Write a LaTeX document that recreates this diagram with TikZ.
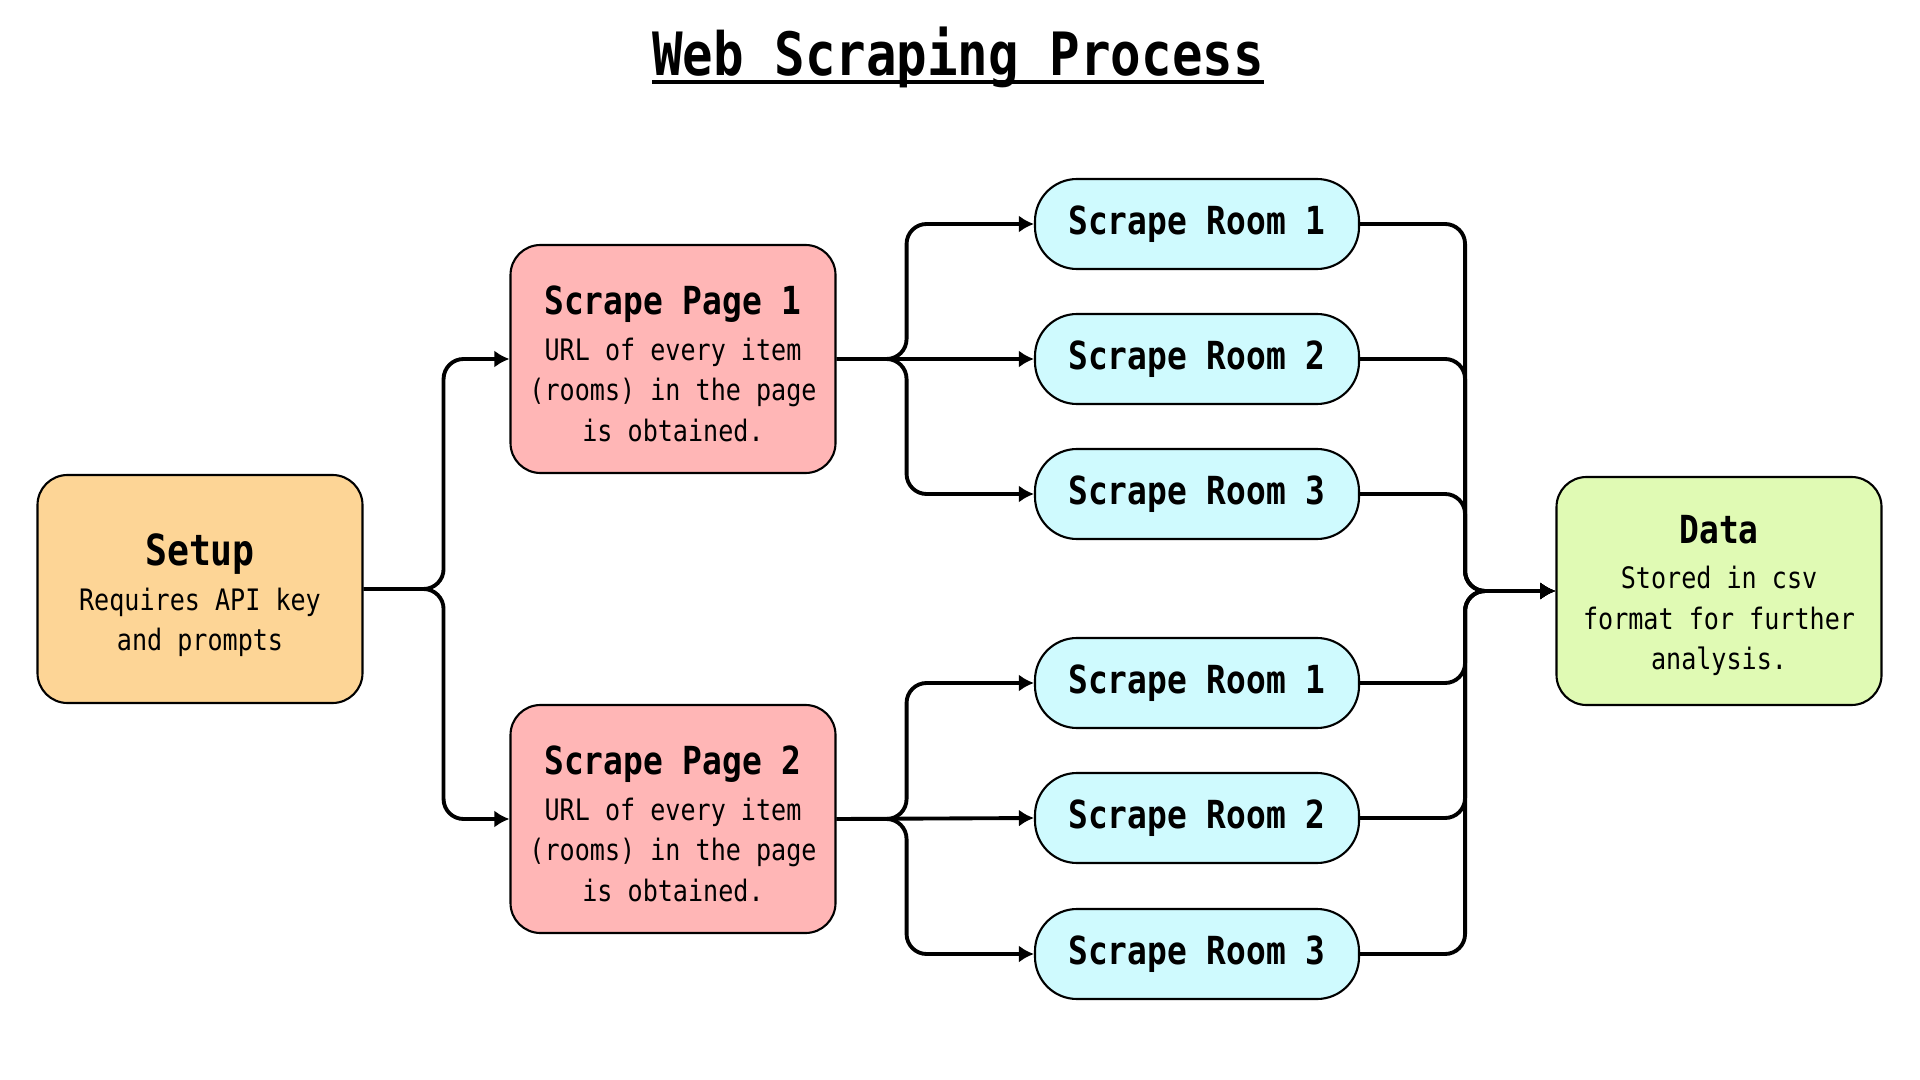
\documentclass[tikz,border=0pt]{standalone}
\usepackage{fontspec}
\setmainfont[FakeStretch=0.85]{DejaVu Sans Mono}
\usepackage{xcolor}
\usepackage{tikz}
\usetikzlibrary{arrows.meta}
\definecolor{OrangeSetup}{RGB}{253,213,150}
\definecolor{RedPage}{RGB}{255,182,182}
\definecolor{CyanRoom}{RGB}{207,250,254}
\definecolor{GreenData}{RGB}{224,250,180}
\newcommand{\thickunderline}[1]{\setbox0=\hbox{#1}\rlap{\rule[-2.4pt]{\wd0}{1.3pt}}\box0}
\newcommand{\headfont}{\fontsize{11}{13}\selectfont\bfseries}
\newcommand{\headstrut}[1]{\rule{0pt}{#1}}

\begin{document}
\begin{tikzpicture}[>={Latex[length=1.5mm,width=1.7mm]},
  bigbox/.style={draw,line width=0.6pt,rounded corners=0.3cm,minimum width=3.25cm,minimum height=2.28cm,align=center,font=\fontsize{8.4}{11.5}\selectfont},
  roombox/.style={draw,line width=0.6pt,rounded corners=0.42cm,fill=CyanRoom,minimum width=3.24cm,minimum height=0.9cm,font=\headfont},
  link/.style={->,line width=1.1pt,rounded corners=0.2cm}]
  \useasboundingbox (0,0) rectangle (19.2,-10.8);
  \node[anchor=base,font=\fontsize{17}{20}\selectfont\bfseries] (title) at (9.58,-0.76) {\thickunderline{Web Scraping Process}};
  % boxes
  \node[bigbox,fill=OrangeSetup] (setup) at (2.00,-5.89) {{\fontsize{12.2}{14}\selectfont\bfseries\headstrut{12.8pt}Setup}\\[1.2pt]Requires API key\\and prompts};
  \node[bigbox,fill=RedPage] (page1) at (6.73,-3.59) {{\headfont\headstrut{11pt}Scrape Page 1}\\[1.5pt]URL of every item\\(rooms) in the page\\is obtained.};
  \node[bigbox,fill=RedPage] (page2) at (6.73,-8.19) {{\headfont\headstrut{11pt}Scrape Page 2}\\[1.5pt]URL of every item\\(rooms) in the page\\is obtained.};
  \node[roombox] (room1a) at (11.97,-2.24) {Scrape Room 1};
  \node[roombox] (room2a) at (11.97,-3.59) {Scrape Room 2};
  \node[roombox] (room3a) at (11.97,-4.94) {Scrape Room 3};
  \node[roombox] (room1b) at (11.97,-6.83) {Scrape Room 1};
  \node[roombox] (room2b) at (11.97,-8.18) {Scrape Room 2};
  \node[roombox] (room3b) at (11.97,-9.54) {Scrape Room 3};
  \node[bigbox,fill=GreenData] (data) at (17.19,-5.91) {{\headfont\headstrut{10.6pt}Data}\\[1.5pt]Stored in csv\\format for further\\analysis.};
  % connectors
  \draw[link] (setup.east) -- ++(0.8,0) |- (page1.west);
  \draw[link] (setup.east) -- ++(0.8,0) |- (page2.west);
  \draw[link] (page1.east) -- ++(0.7,0) |- (room1a.west);
  \draw[link] (page1.east) -- (room2a.west);
  \draw[link] (page1.east) -- ++(0.7,0) |- (room3a.west);
  \draw[link] (page2.east) -- ++(0.7,0) |- (room1b.west);
  \draw[link] (page2.east) -- (room2b.west);
  \draw[link] (page2.east) -- ++(0.7,0) |- (room3b.west);
  \draw[link] (room1a.east) -- ++(1.05,0) |- (data.west);
  \draw[link] (room2a.east) -- ++(1.05,0) |- (data.west);
  \draw[link] (room3a.east) -- ++(1.05,0) |- (data.west);
  \draw[link] (room1b.east) -- ++(1.05,0) |- (data.west);
  \draw[link] (room2b.east) -- ++(1.05,0) |- (data.west);
  \draw[link] (room3b.east) -- ++(1.05,0) |- (data.west);
\end{tikzpicture}
\end{document}
